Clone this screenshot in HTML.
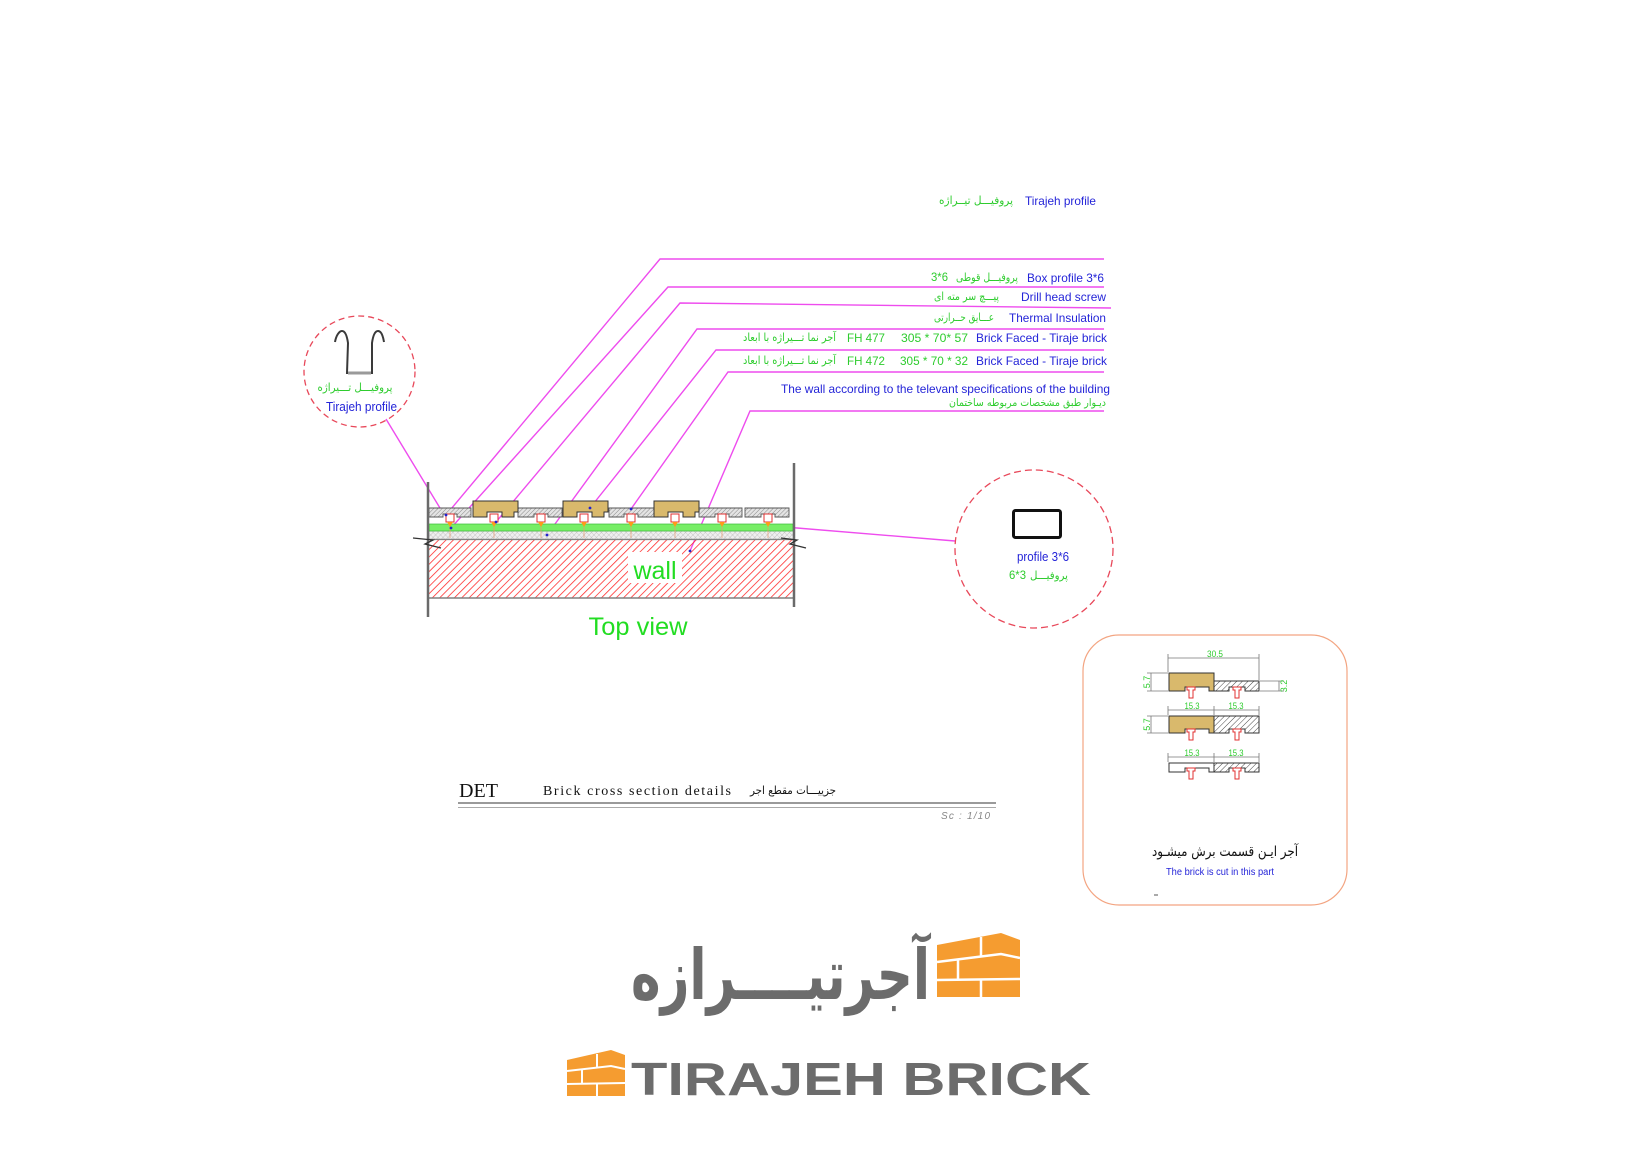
<!DOCTYPE html>
<html>
<head>
<meta charset="utf-8">
<style>
  html,body{margin:0;padding:0;background:#ffffff;}
  svg{display:block;}
  .en{font-family:"Liberation Sans",Arial,sans-serif;}
  .fa{font-family:"DejaVu Sans","Liberation Sans",sans-serif;}
  .blue{fill:#2424d8;}
  .green{fill:#2ecc2e;}
</style>
</head>
<body>
<svg width="1650" height="1168" viewBox="0 0 1650 1168" xmlns="http://www.w3.org/2000/svg">
  <defs>
    <pattern id="wallH" width="5.2" height="10" patternUnits="userSpaceOnUse" patternTransform="rotate(45)">
      <line x1="0" y1="0" x2="0" y2="10" stroke="#ff3030" stroke-width="1.6"/>
    </pattern>
    <pattern id="gh" width="3" height="6" patternUnits="userSpaceOnUse" patternTransform="rotate(45)">
      <rect width="3" height="6" fill="#e4e4e4"/>
      <line x1="0" y1="0" x2="0" y2="6" stroke="#707070" stroke-width="0.8"/>
    </pattern>
    <pattern id="xh" width="3.5" height="3.5" patternUnits="userSpaceOnUse" patternTransform="rotate(45)">
      <rect width="3.5" height="3.5" fill="#efefef"/>
      <path d="M0 0H3.5M0 0V3.5" stroke="#a8a8a8" stroke-width="0.6"/>
    </pattern>
    <pattern id="bh" width="4" height="8" patternUnits="userSpaceOnUse" patternTransform="rotate(45)">
      <rect width="4" height="8" fill="#ffffff"/>
      <line x1="0" y1="0" x2="0" y2="8" stroke="#333" stroke-width="0.9"/>
    </pattern>
  </defs>

  <!-- ===== Top labels ===== -->
  <text class="fa green" x="976" y="204" font-size="11" text-anchor="middle" textLength="74" lengthAdjust="spacingAndGlyphs">پروفیـــل تیــراژه</text>
  <text class="en blue" x="1060.5" y="205" font-size="12" text-anchor="middle" textLength="71" lengthAdjust="spacingAndGlyphs">Tirajeh profile</text>

  <!-- leader lines -->
  <g fill="none" stroke="#ee4cee" stroke-width="1.4">
    <polyline points="446,515 660,259 1104,259"/>
    <polyline points="451,528 668,287 1104,287"/>
    <polyline points="496,522 680,303 1111,308"/>
    <polyline points="547,535 697,329 1104,329"/>
    <polyline points="590,508 716,350 1104,350"/>
    <polyline points="631,509 728,372 1104,372"/>
    <polyline points="690,551 750,411 1104,411"/>
    <line x1="386" y1="419" x2="443" y2="513"/>
    <line x1="785" y1="527" x2="955" y2="541"/>
  </g>

  <!-- Box profile -->
  <text class="en green" x="939.5" y="281" font-size="11.5" text-anchor="middle" textLength="17" lengthAdjust="spacingAndGlyphs">3*6</text>
  <text class="fa green" x="987" y="281" font-size="11" text-anchor="middle" textLength="62" lengthAdjust="spacingAndGlyphs">پروفیـــل قوطی</text>
  <text class="en blue" x="1065.5" y="282" font-size="12" text-anchor="middle" textLength="77" lengthAdjust="spacingAndGlyphs">Box profile 3*6</text>
  <!-- Drill -->
  <text class="fa green" x="966.5" y="300" font-size="11" text-anchor="middle" textLength="65" lengthAdjust="spacingAndGlyphs">پیـــچ سر مته ای</text>
  <text class="en blue" x="1063.5" y="301" font-size="12" text-anchor="middle" textLength="85" lengthAdjust="spacingAndGlyphs">Drill head screw</text>
  <!-- Thermal -->
  <text class="fa green" x="964" y="321" font-size="11" text-anchor="middle" textLength="60" lengthAdjust="spacingAndGlyphs">عـــایق حــرارتی</text>
  <text class="en blue" x="1057.5" y="322" font-size="12" text-anchor="middle" textLength="97" lengthAdjust="spacingAndGlyphs">Thermal Insulation</text>
  <!-- FH 477 -->
  <text class="fa green" x="789.5" y="341" font-size="11" text-anchor="middle" textLength="93" lengthAdjust="spacingAndGlyphs">آجر نما تـــیراژه با ابعاد</text>
  <text class="en green" x="866" y="342" font-size="12" text-anchor="middle" textLength="38" lengthAdjust="spacingAndGlyphs">FH 477</text>
  <text class="en green" x="934.5" y="342" font-size="12" text-anchor="middle" textLength="67" lengthAdjust="spacingAndGlyphs">305 * 70* 57</text>
  <text class="en blue" x="1041.5" y="342" font-size="12" text-anchor="middle" textLength="131" lengthAdjust="spacingAndGlyphs">Brick Faced - Tiraje brick</text>
  <!-- FH 472 -->
  <text class="fa green" x="789.5" y="364" font-size="11" text-anchor="middle" textLength="93" lengthAdjust="spacingAndGlyphs">آجر نما تـــیراژه با ابعاد</text>
  <text class="en green" x="866" y="365" font-size="12" text-anchor="middle" textLength="38" lengthAdjust="spacingAndGlyphs">FH 472</text>
  <text class="en green" x="934" y="365" font-size="12" text-anchor="middle" textLength="68" lengthAdjust="spacingAndGlyphs">305 * 70 * 32</text>
  <text class="en blue" x="1041.5" y="365" font-size="12" text-anchor="middle" textLength="131" lengthAdjust="spacingAndGlyphs">Brick Faced - Tiraje brick</text>
  <!-- wall text -->
  <text class="en blue" x="945.5" y="393" font-size="12" text-anchor="middle" textLength="329" lengthAdjust="spacingAndGlyphs">The wall according to the televant specifications of the building</text>
  <text class="fa green" x="1027.5" y="406" font-size="10.5" text-anchor="middle" textLength="157" lengthAdjust="spacingAndGlyphs">دیـوار طبق مشخصات مربوطه ساختمان</text>

  <!-- ===== Left circle (Tirajeh profile) ===== -->
  <circle cx="359.5" cy="371.5" r="55.5" fill="none" stroke="#e8485a" stroke-width="1.3" stroke-dasharray="6 4"/>
  <path d="M335,342 C336,336 339,331 342,331 C345,331 347,336 348,343 L347,373 L372,373 L372,343 C373,336 375,331 378,331 C381,331 383,336 384,342" fill="none" stroke="#3a3a3a" stroke-width="2"/>
  <line x1="348" y1="373" x2="371" y2="373" stroke="#9a9a9a" stroke-width="3"/>
  <text class="fa green" x="355" y="391" font-size="11" text-anchor="middle" textLength="75" lengthAdjust="spacingAndGlyphs">پروفیـــل تـــیراژه</text>
  <text class="en blue" x="361.5" y="411" font-size="12.5" text-anchor="middle" textLength="71" lengthAdjust="spacingAndGlyphs">Tirajeh profile</text>

  <!-- ===== Main drawing ===== -->
  <rect x="429" y="540" width="365" height="58" fill="url(#wallH)"/>
  <rect x="628" y="552" width="54" height="31" fill="#ffffff"/>
  <line x1="429" y1="539.5" x2="794" y2="539.5" stroke="#777" stroke-width="1.2"/>
  <line x1="429" y1="598" x2="794" y2="598" stroke="#808080" stroke-width="1.6"/>
  <rect x="429" y="531" width="365" height="8" fill="url(#xh)" stroke="#999" stroke-width="0.6"/>
  <rect x="429" y="524" width="364" height="7" fill="#77ee66" stroke="#3bbb3b" stroke-width="0.7"/>
  <g stroke="#e79a70" stroke-width="0.7">
    <line x1="450" y1="527" x2="450" y2="538"/><line x1="494" y1="527" x2="494" y2="538"/>
    <line x1="541" y1="527" x2="541" y2="538"/><line x1="584" y1="527" x2="584" y2="538"/>
    <line x1="631" y1="527" x2="631" y2="538"/><line x1="675" y1="527" x2="675" y2="538"/>
    <line x1="722" y1="527" x2="722" y2="538"/><line x1="768" y1="527" x2="768" y2="538"/>
  </g>
  <g fill="url(#gh)" stroke="#555" stroke-width="0.9">
    <path d="M429,508 H471 V517 H457 V514 H443 V517 H429 Z"/>
    <path d="M518,508 H562 V517 H548 V514 H534 V517 H518 Z"/>
    <path d="M609,508 H662 V517 H638 V514 H624 V517 H609 Z"/>
    <path d="M699,508 H742 V517 H729 V514 H715 V517 H699 Z"/>
    <path d="M745,508 H789 V517 H775 V514 H761 V517 H745 Z"/>
  </g>
  <g fill="#d9b96c" stroke="#333" stroke-width="1">
    <path d="M473,501 H518 V512 H514 V517 H502 V512 H487 V517 H473 Z"/>
    <path d="M563,501 H608 V512 H604 V517 H592 V512 H577 V517 H563 Z"/>
    <path d="M654,501 H699 V512 H695 V517 H683 V512 H668 V517 H654 Z"/>
  </g>
  <g>
    <g transform="translate(450,0)"><rect x="-4" y="514" width="8" height="8" fill="#fff" stroke="#e23030" stroke-width="1"/><path d="M-3,522 H3 L0,527 Z" fill="#ff9a1a"/></g>
    <g transform="translate(494,0)"><rect x="-4" y="514" width="8" height="8" fill="#fff" stroke="#e23030" stroke-width="1"/><path d="M-3,522 H3 L0,527 Z" fill="#ff9a1a"/></g>
    <g transform="translate(541,0)"><rect x="-4" y="514" width="8" height="8" fill="#fff" stroke="#e23030" stroke-width="1"/><path d="M-3,522 H3 L0,527 Z" fill="#ff9a1a"/></g>
    <g transform="translate(584,0)"><rect x="-4" y="514" width="8" height="8" fill="#fff" stroke="#e23030" stroke-width="1"/><path d="M-3,522 H3 L0,527 Z" fill="#ff9a1a"/></g>
    <g transform="translate(631,0)"><rect x="-4" y="514" width="8" height="8" fill="#fff" stroke="#e23030" stroke-width="1"/><path d="M-3,522 H3 L0,527 Z" fill="#ff9a1a"/></g>
    <g transform="translate(675,0)"><rect x="-4" y="514" width="8" height="8" fill="#fff" stroke="#e23030" stroke-width="1"/><path d="M-3,522 H3 L0,527 Z" fill="#ff9a1a"/></g>
    <g transform="translate(722,0)"><rect x="-4" y="514" width="8" height="8" fill="#fff" stroke="#e23030" stroke-width="1"/><path d="M-3,522 H3 L0,527 Z" fill="#ff9a1a"/></g>
    <g transform="translate(768,0)"><rect x="-4" y="514" width="8" height="8" fill="#fff" stroke="#e23030" stroke-width="1"/><path d="M-3,522 H3 L0,527 Z" fill="#ff9a1a"/></g>
  </g>
  <line x1="428" y1="482" x2="428" y2="617" stroke="#6a6a6a" stroke-width="2.5"/>
  <line x1="794" y1="463" x2="794" y2="607" stroke="#6a6a6a" stroke-width="2.5"/>
  <polyline points="413,538 433,540 425,544 441,548" fill="none" stroke="#333" stroke-width="1.3"/>
  <polyline points="781,538 797,540 790,544 806,548" fill="none" stroke="#333" stroke-width="1.3"/>
  <g fill="#2222cc">
    <circle cx="446" cy="515" r="1.4"/><circle cx="451" cy="528" r="1.4"/>
    <circle cx="496" cy="522" r="1.4"/><circle cx="547" cy="535" r="1.4"/>
    <circle cx="590" cy="508" r="1.4"/><circle cx="631" cy="509" r="1.4"/>
    <circle cx="690" cy="551" r="1.4"/>
  </g>
  <text class="en" x="655" y="579" font-size="25" fill="#22dd22" text-anchor="middle">wall</text>
  <text class="en" x="638" y="635" font-size="25" fill="#22dd22" text-anchor="middle" textLength="99" lengthAdjust="spacingAndGlyphs">Top view</text>

  <!-- ===== Right circle (profile 3*6) ===== -->
  <circle cx="1034" cy="549" r="79" fill="none" stroke="#e8485a" stroke-width="1.3" stroke-dasharray="7 4"/>
  <rect x="1013.5" y="510.5" width="47" height="27" rx="2" fill="none" stroke="#111" stroke-width="3"/>
  <text class="en blue" x="1043" y="561" font-size="12.5" text-anchor="middle" textLength="52" lengthAdjust="spacingAndGlyphs">profile 3*6</text>
  <text class="en green" x="1017.5" y="579" font-size="12" text-anchor="middle" textLength="17" lengthAdjust="spacingAndGlyphs">6*3</text>
  <text class="fa green" x="1049" y="579" font-size="11" text-anchor="middle" textLength="38" lengthAdjust="spacingAndGlyphs">پروفیـــل</text>

  <!-- ===== Detail box ===== -->
  <rect x="1083" y="635" width="264" height="270" rx="36" fill="none" stroke="#f3a582" stroke-width="1.2"/>
  <g stroke="#777" stroke-width="0.8" fill="none">
    <line x1="1168" y1="658" x2="1259" y2="658"/>
    <line x1="1168" y1="654" x2="1168" y2="672"/>
    <line x1="1259" y1="654" x2="1259" y2="680"/>
    <line x1="1151" y1="673" x2="1151" y2="691"/>
    <line x1="1147" y1="673" x2="1168" y2="673"/>
    <line x1="1147" y1="691" x2="1168" y2="691"/>
    <line x1="1279" y1="681" x2="1279" y2="691"/>
    <line x1="1260" y1="681" x2="1284" y2="681"/>
    <line x1="1260" y1="691" x2="1284" y2="691"/>
    <line x1="1168" y1="710" x2="1259" y2="710"/>
    <line x1="1168" y1="706" x2="1168" y2="715"/>
    <line x1="1214" y1="706" x2="1214" y2="715"/>
    <line x1="1259" y1="706" x2="1259" y2="715"/>
    <line x1="1151" y1="716" x2="1151" y2="733"/>
    <line x1="1147" y1="716" x2="1168" y2="716"/>
    <line x1="1147" y1="733" x2="1168" y2="733"/>
    <line x1="1168" y1="757" x2="1259" y2="757"/>
    <line x1="1168" y1="753" x2="1168" y2="762"/>
    <line x1="1214" y1="753" x2="1214" y2="762"/>
    <line x1="1259" y1="753" x2="1259" y2="762"/>
  </g>
  <g class="en" fill="#2ecc2e" font-size="9">
    <text x="1215" y="657" text-anchor="middle" textLength="16" lengthAdjust="spacingAndGlyphs">30.5</text>
    <text x="1192" y="709" text-anchor="middle" textLength="15" lengthAdjust="spacingAndGlyphs">15.3</text>
    <text x="1236" y="709" text-anchor="middle" textLength="15" lengthAdjust="spacingAndGlyphs">15.3</text>
    <text x="1192" y="756" text-anchor="middle" textLength="15" lengthAdjust="spacingAndGlyphs">15.3</text>
    <text x="1236" y="756" text-anchor="middle" textLength="15" lengthAdjust="spacingAndGlyphs">15.3</text>
    <text transform="translate(1150,682) rotate(-90)" text-anchor="middle">5.7</text>
    <text transform="translate(1150,724.5) rotate(-90)" text-anchor="middle">5.7</text>
    <text transform="translate(1287,686) rotate(-90)" text-anchor="middle">3.2</text>
  </g>
  <path d="M1169,673 H1214 V691 H1209 V687 H1185 V691 H1169 Z" fill="#d9b96c" stroke="#333" stroke-width="1"/>
  <path d="M1214,681 H1259 V691 H1245 V687 H1229 V691 H1214 Z" fill="url(#bh)" stroke="#333" stroke-width="1"/>
  <path d="M1169,716 H1214 V733 H1209 V729 H1185 V733 H1169 Z" fill="#d9b96c" stroke="#333" stroke-width="1"/>
  <path d="M1214,716 H1259 V733 H1245 V729 H1229 V733 H1214 Z" fill="url(#bh)" stroke="#333" stroke-width="1"/>
  <path d="M1169,763 H1214 V772 H1209 V768 H1185 V772 H1169 Z" fill="#ffffff" stroke="#333" stroke-width="1"/>
  <path d="M1214,763 H1259 V772 H1245 V768 H1229 V772 H1214 Z" fill="url(#bh)" stroke="#333" stroke-width="1"/>
  <g fill="#fff" stroke="#e23030" stroke-width="1">
    <path d="M1187,687 H1195 V690 H1193 V698 H1189 V690 H1187 Z"/>
    <path d="M1233,687 H1241 V690 H1239 V698 H1235 V690 H1233 Z"/>
    <path d="M1187,729 H1195 V732 H1193 V740 H1189 V732 H1187 Z"/>
    <path d="M1233,729 H1241 V732 H1239 V740 H1235 V732 H1233 Z"/>
    <path d="M1187,768 H1195 V771 H1193 V779 H1189 V771 H1187 Z"/>
    <path d="M1233,768 H1241 V771 H1239 V779 H1235 V771 H1233 Z"/>
  </g>
  <text class="fa" x="1225" y="856" font-size="14" fill="#111" text-anchor="middle" textLength="146" lengthAdjust="spacingAndGlyphs">آجر ایـن قسمت برش  میشـود</text>
  <text class="en blue" x="1220" y="875" font-size="10" text-anchor="middle" textLength="108" lengthAdjust="spacingAndGlyphs">The brick is cut in this part</text>
  <line x1="1154" y1="895" x2="1158" y2="895" stroke="#555" stroke-width="1"/>

  <!-- ===== DET title block ===== -->
  <text x="459" y="797" font-family="'Liberation Serif',serif" font-size="20" fill="#111" textLength="39" lengthAdjust="spacingAndGlyphs">DET</text>
  <text x="543" y="795" font-family="'Liberation Serif',serif" font-size="14" fill="#111" textLength="188" lengthAdjust="spacing">Brick cross section details</text>
  <text class="fa" x="793" y="794" font-size="11" fill="#111" text-anchor="middle" textLength="86" lengthAdjust="spacingAndGlyphs">جزییـــات مقطع اجر</text>
  <line x1="458" y1="803" x2="996" y2="803" stroke="#9a9a9a" stroke-width="2"/>
  <line x1="458" y1="807.5" x2="996" y2="807.5" stroke="#aaa" stroke-width="1"/>
  <text class="en" x="941" y="819" font-size="10" font-style="italic" fill="#888" textLength="49" lengthAdjust="spacing">Sc : 1/10</text>

  <!-- ===== Logos ===== -->
  <g>
    <path d="M937,945 L1001,933 L1020,940 L1020,997 L937,997 Z" fill="#f59c30"/>
    <g stroke="#ffffff" stroke-width="2.5" fill="none">
      <path d="M937,962 L1001,954 L1020,958"/>
      <path d="M937,980 L1020,979"/>
      <line x1="981" y1="937" x2="981" y2="957"/>
      <line x1="958" y1="960" x2="958" y2="980"/>
      <line x1="981" y1="980" x2="981" y2="997"/>
    </g>
  </g>
  <text class="fa" x="780.5" y="999" font-size="70" font-weight="bold" fill="#6c6c6c" text-anchor="middle" textLength="299" lengthAdjust="spacingAndGlyphs">آجرتیــــرازه</text>

  <g>
    <path d="M567,1060 L611,1050 L625,1055 L625,1096 L567,1096 Z" fill="#f59c30"/>
    <g stroke="#ffffff" stroke-width="2" fill="none">
      <path d="M567,1071 L611,1066 L625,1069"/>
      <path d="M567,1084 L625,1083"/>
      <line x1="597" y1="1054" x2="597" y2="1068"/>
      <line x1="582" y1="1070" x2="582" y2="1084"/>
      <line x1="597" y1="1084" x2="597" y2="1096"/>
    </g>
  </g>
  <text class="en" x="631" y="1095" font-size="46" font-weight="bold" fill="#6c6c6c" textLength="460" lengthAdjust="spacingAndGlyphs">TIRAJEH BRICK</text>
</svg>
</body>
</html>
